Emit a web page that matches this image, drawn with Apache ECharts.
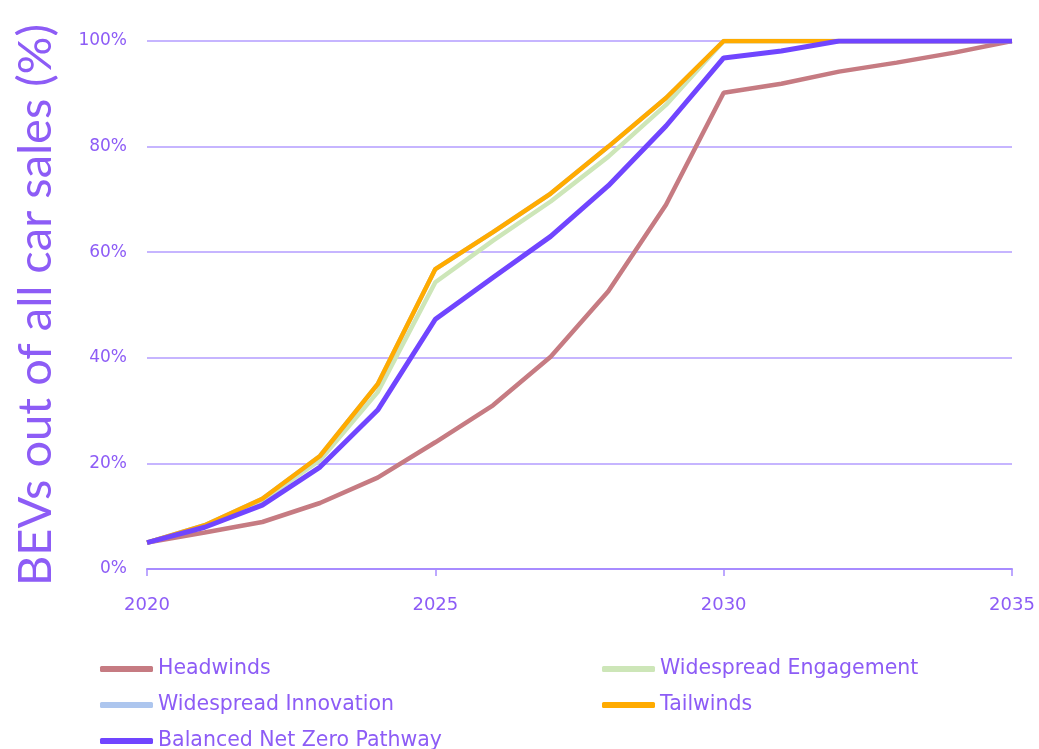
<!DOCTYPE html>
<html>
<head>
<meta charset="utf-8">
<script src="https://cdn.jsdelivr.net/npm/echarts@6/dist/echarts.min.js"></script>
<style>
  html,body{margin:0;padding:0;background:#fff;}
  #main{width:1039px;height:749px;}
</style>
</head>
<body>
<div id="main"></div>
<script>
// years on the x axis
var years=[2020,2021,2022,2023,2024,2025,2026,2027,2028,2029,2030,2031,2032,2033,2034,2035];
// BEV share of car sales, %
var headwinds=[5,6.9,8.9,12.5,17.3,24,31,40.2,52.6,69,90.2,91.9,94.2,95.9,97.8,100];
var engagement=[5,8.1,13,20.6,33.5,54.3,62.2,69.6,78.1,87.9,100,100,100,100,100,100];
var innovation=[5,8.3,13.3,21.4,35,56.8,63.8,71.1,80,89.2,100,100,100,100,100,100];
var tailwinds=[5,8.3,13.3,21.4,35,56.8,63.8,71.1,80,89.2,100,100,100,100,100,100];
var balanced=[5,7.9,12.1,19.3,30.1,47.3,55.2,63,72.6,83.9,96.8,98.1,100,100,100,100];
var yTicks=[0,20,40,60,80,100];

var purple='#8d5cf6';
var font='"DejaVu Sans", sans-serif';

function pairs(arr){
    return years.map(function(y,i){return [y,arr[i]];});
}

var legendText={color:purple,fontSize:20.5,fontFamily:font,lineHeight:22};

var myChart=echarts.init(document.getElementById('main'));
var option={
    animation:false,
    textStyle:{fontFamily:font},
    grid:{left:147,right:27,top:41,bottom:180,containLabel:false},
    legend:[{
        orient:'vertical',left:95,top:653,height:120,
        icon:'roundRect',itemWidth:53,itemHeight:6,itemGap:14,
        textStyle:legendText,
        data:['Headwinds','Widespread Innovation','Balanced Net Zero Pathway']
    },{
        orient:'vertical',left:597,top:653,height:120,
        icon:'roundRect',itemWidth:53,itemHeight:6,itemGap:14,
        textStyle:legendText,
        data:['Widespread Engagement','Tailwinds']
    }],
    xAxis:{
        type:'value',min:2020,max:2035,interval:5,
        axisLine:{show:true,lineStyle:{color:'#a88cff',width:2}},
        axisTick:{show:true,length:7,lineStyle:{color:'#a88cff',width:1.5}},
        splitLine:{show:false},
        axisLabel:{color:purple,fontSize:18,margin:27,fontFamily:font,formatter:function(v){return String(v);}}
    },
    yAxis:{
        type:'value',min:yTicks[0],max:yTicks[yTicks.length-1],interval:20,
        name:'BEVs out of all car sales (%)',
        nameLocation:'middle',nameGap:88,
        nameTextStyle:{color:purple,fontSize:47,fontFamily:'Lato, sans-serif'},
        axisLine:{show:false},
        axisTick:{show:false},
        splitLine:{lineStyle:{color:'#b39dff',width:1.5}},
        axisLabel:{color:purple,fontSize:17,margin:20,fontFamily:font,formatter:'{value}%'}
    },
    series:[
        {name:'Headwinds',type:'line',data:pairs(headwinds),showSymbol:false,symbol:'none',
         itemStyle:{color:'#c67b82'},lineStyle:{width:4.5,color:'#c67b82'}},
        {name:'Widespread Engagement',type:'line',data:pairs(engagement),showSymbol:false,symbol:'none',
         itemStyle:{color:'#cde6b8'},lineStyle:{width:4.5,color:'#cde6b8'}},
        {name:'Widespread Innovation',type:'line',data:pairs(innovation),showSymbol:false,symbol:'none',
         itemStyle:{color:'#adc6ee'},lineStyle:{width:4.5,color:'#adc6ee'}},
        {name:'Tailwinds',type:'line',data:pairs(tailwinds),showSymbol:false,symbol:'none',
         itemStyle:{color:'#ffab00'},lineStyle:{width:4.5,color:'#ffab00'}},
        {name:'Balanced Net Zero Pathway',type:'line',data:pairs(balanced),showSymbol:false,symbol:'none',
         itemStyle:{color:'#7045ff'},lineStyle:{width:5,color:'#7045ff'}}
    ]
};
myChart.setOption(option);
</script>
</body>
</html>
